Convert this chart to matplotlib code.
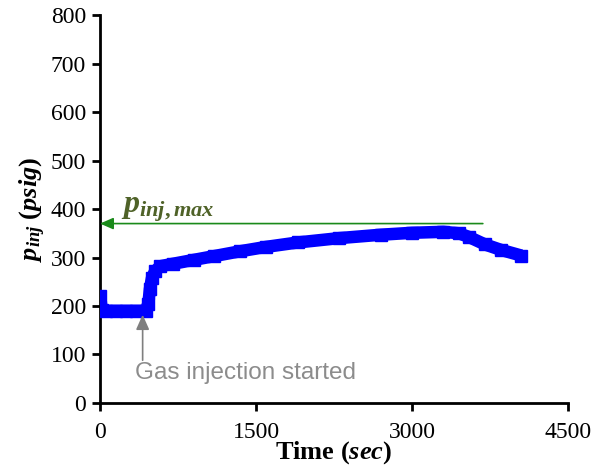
import matplotlib.pyplot as plt

plt.rcParams['font.family'] = ['Liberation Serif', 'DejaVu Serif']
plt.rcParams['mathtext.fontset'] = 'custom'
plt.rcParams['mathtext.rm'] = 'Liberation Serif:bold'
plt.rcParams['mathtext.it'] = 'Liberation Serif:bold:italic'
plt.rcParams['mathtext.bf'] = 'Liberation Serif:bold'

# time (sec) and injection pressure (psig)
time_s = [0, 20, 60, 150, 250, 350, 440, 465, 480, 500, 530, 580, 700, 900,
          1100, 1350, 1600, 1900, 2300, 2700, 3000, 3300, 3450, 3550, 3700,
          3850, 4050]
p_inj = [220, 192, 190, 190, 190, 190, 190, 205, 235, 258, 272, 282, 287, 295,
         303, 313, 322, 331, 340, 347, 351, 353, 350, 342, 327,
         316, 304]

p_max = 370
p_max_end = 3680
gas_start = 410

fig = plt.figure(figsize=(5.93, 4.74), dpi=100)
ax = fig.add_axes([0.1686, 0.150, 0.7895, 0.818])

ax.plot(time_s, p_inj, color='#0000ff', lw=9, marker='s', ms=8,
        solid_joinstyle='round', solid_capstyle='butt', zorder=3)

# p_inj,max arrow
ax.annotate('', xy=(0, p_max), xytext=(p_max_end, p_max),
            arrowprops=dict(arrowstyle='-|>,head_length=0.8,head_width=0.35',
                            color='#1a8a1a', lw=1.2, shrinkA=0, shrinkB=0),
            zorder=4)
ax.text(200, 392, r'$p_{inj,max}$', color='#4f6228', fontsize=23,
        ha='left', va='baseline')

# gas injection arrow
ax.annotate('', xy=(gas_start, 182), xytext=(gas_start, 88),
            arrowprops=dict(arrowstyle='-|>,head_length=0.9,head_width=0.4',
                            color='#7f7f7f', lw=1.2, shrinkA=0, shrinkB=0))
ax.text(335, 62, 'Gas injection started', color='#8c8c8c', fontsize=17.5,
        family=['Liberation Sans', 'DejaVu Sans'], ha='left', va='center')

ax.set_xlim(0, 4500)
ax.set_ylim(0, 800)
ax.set_xticks([0, 1500, 3000, 4500])
ax.set_yticks(range(0, 801, 100))

for s in ['top', 'right']:
    ax.spines[s].set_visible(False)
for s in ['left', 'bottom']:
    ax.spines[s].set_linewidth(2)
    ax.spines[s].set_color('black')

ax.tick_params(axis='both', direction='out', length=6, width=2,
               labelsize=17, pad=4)
ax.tick_params(axis='x', pad=8)

ax.set_xlabel(r'Time ($sec$)', fontsize=19, fontweight='bold', labelpad=-3)
ax.set_ylabel(r'$p_{inj}$ ($psig$)', fontsize=19, fontweight='bold',
              labelpad=2)

fig.savefig('out.png', dpi=100)
